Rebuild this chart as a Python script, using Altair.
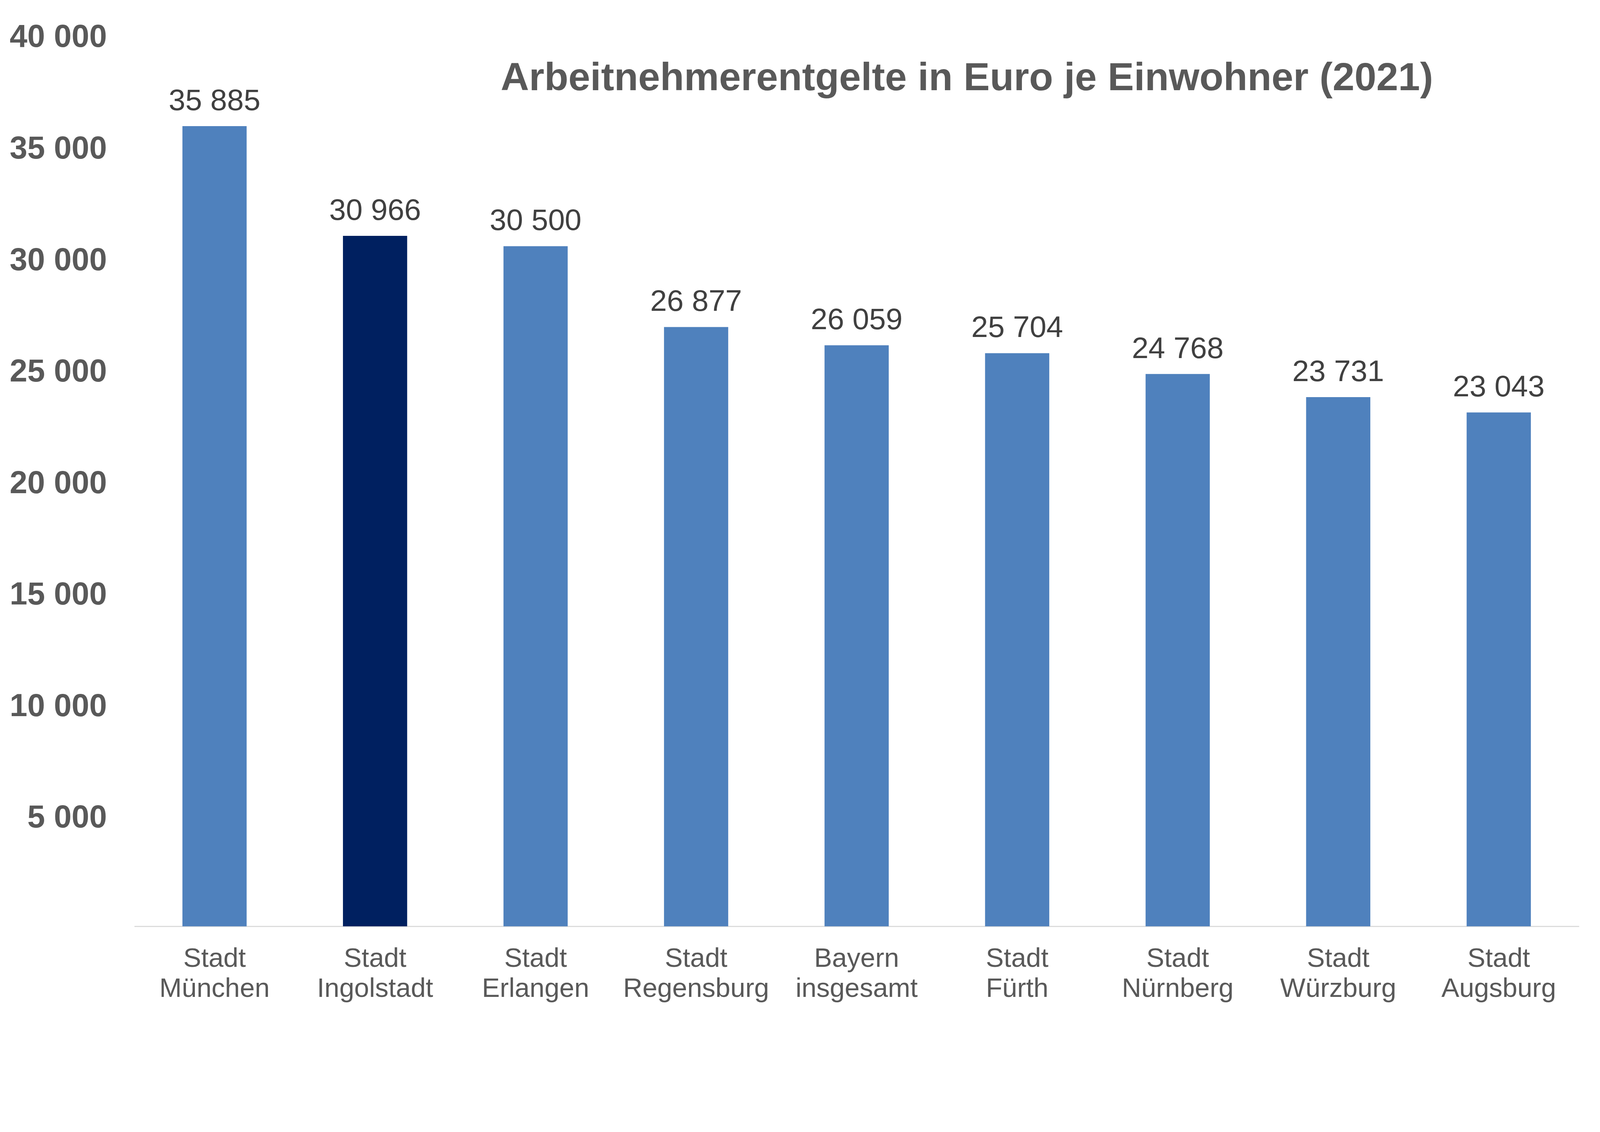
import altair as alt
import pandas as pd

categories = ["Stadt München", "Stadt Ingolstadt", "Stadt Erlangen", "Stadt Regensburg",
              "Bayern insgesamt", "Stadt Fürth", "Stadt Nürnberg", "Stadt Würzburg", "Stadt Augsburg"]
values = [35885, 30966, 30500, 26877, 26059, 25704, 24768, 23731, 23043]
highlight = ["no", "yes", "no", "no", "no", "no", "no", "no", "no"]
y_ticks = [5000, 10000, 15000, 20000, 25000, 30000, 35000, 40000]
title_text = "Arbeitnehmerentgelte in Euro je Einwohner (2021)"

df = pd.DataFrame({"cat": categories, "val": values, "hl": highlight})
df["lbl"] = [f"{v:,}".replace(",", " ") for v in values]
df_title = pd.DataFrame({"t": [title_text]})

FONT = "Liberation Sans"

base = alt.Chart(df)

bars = base.mark_bar().encode(
    x=alt.X("cat:N", sort=categories, title=None,
            scale=alt.Scale(paddingInner=0.6, paddingOuter=0.3),
            axis=alt.Axis(labelAngle=0, labelFont=FONT, labelFontSize=75, labelColor="#595959",
                          labelExpr="split(datum.label, ' ')", labelLineHeight=84,
                          labelBaseline="top", labelPadding=54, ticks=False, labelLimit=2000,
                          domainColor="#d9d9d9", domainWidth=3, grid=False)),
    y=alt.Y("val:Q", title=None,
            scale=alt.Scale(domain=[0, 40000], nice=False),
            axis=alt.Axis(values=y_ticks, labelFont=FONT, labelFontSize=89, labelFontWeight="bold",
                          labelColor="#595959", labelPadding=77, ticks=False, domain=False, grid=False,
                          labelLimit=2000, labelOffset=8,
                          labelExpr="replace(format(datum.value, ','), ',', ' ')")),
    color=alt.Color("hl:N", scale=alt.Scale(domain=["no", "yes"], range=["#4f81bd", "#002060"]), legend=None),
)

texts = base.mark_text(baseline="alphabetic", align="center", dy=-45, font=FONT, fontSize=84,
                       color="#404040").encode(
    x=alt.X("cat:N", sort=categories),
    y=alt.Y("val:Q"),
    text="lbl:N",
)

title = alt.Chart(df_title).mark_text(baseline="alphabetic", align="center", font=FONT, fontSize=110,
                                      fontWeight="bold", color="#595959").encode(
    x=alt.value(2330), y=alt.value(156), text="t:N")

chart = (bars + texts + title).properties(
    width=4043, height=2497,
    autosize=alt.AutoSizeParams(type="none"),
    padding={"left": 367, "top": -40, "right": 50, "bottom": 280},
    background="white",
).configure_view(stroke=None)

chart.save("out.html", embed_options={"renderer": "svg", "actions": False})
